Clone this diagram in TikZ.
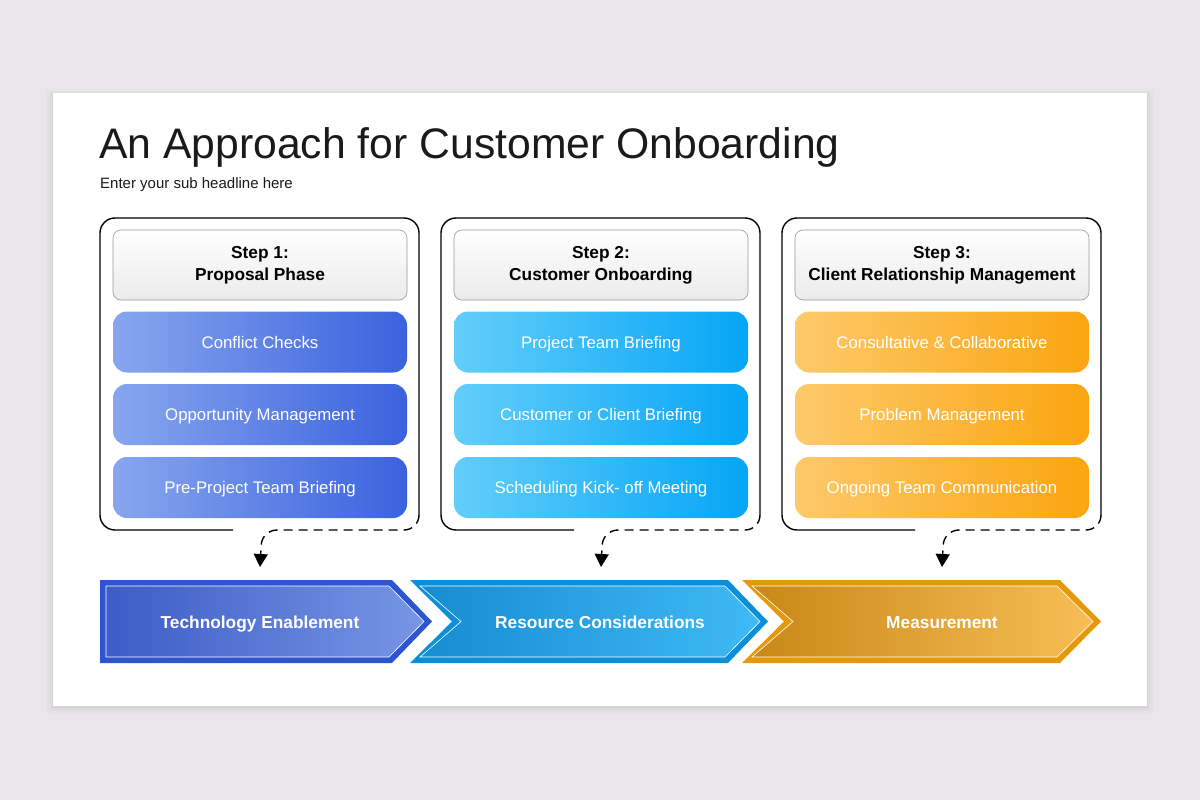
\documentclass[tikz,border=0pt]{standalone}
\usepackage{xcolor}
\usepackage{fontspec}
\setmainfont{Liberation Sans}
\usepackage{tikz}
\usetikzlibrary{arrows.meta, calc}

\definecolor{pageGray}{HTML}{E8E6E8}
\definecolor{titleInk}{HTML}{1A1A1A}
\definecolor{blueL}{HTML}{88A6EE}
\definecolor{blueR}{HTML}{3A62DE}
\definecolor{skyL}{HTML}{62CEFA}
\definecolor{skyR}{HTML}{06A5F6}
\definecolor{amberL}{HTML}{FDC96A}
\definecolor{amberR}{HTML}{FBA510}
\definecolor{chevBlue}{HTML}{2C55CF}
\definecolor{chevBlueL}{HTML}{3D5CC6}
\definecolor{chevBlueR}{HTML}{7896E4}
\definecolor{chevSky}{HTML}{0A8FD8}
\definecolor{chevSkyL}{HTML}{168CD2}
\definecolor{chevSkyR}{HTML}{40BAF6}
\definecolor{chevAmber}{HTML}{E5990A}
\definecolor{chevAmberL}{HTML}{C98818}
\definecolor{chevAmberR}{HTML}{F7BE55}

\tikzset{
    stepcard/.style={draw=black!40, line width=0.6pt, rounded corners=8pt,
        top color=white, bottom color=black!8, minimum width=294pt,
        minimum height=70pt, align=center, text=black,
        font=\fontsize{17.3}{22}\selectfont\bfseries},
    itembox/.style={rounded corners=14pt, minimum width=294pt,
        minimum height=61pt, text=white, text height=12pt, text depth=0pt,
        font=\fontsize{16.8}{20}\selectfont},
    colframe/.style={line width=1.4pt, rounded corners=15pt},
    dashlink/.style={line width=1.4pt, rounded corners=15pt,
        dash pattern=on 9pt off 6pt, -{Triangle[length=13pt,width=14pt]}},
    chevlabel/.style={text=white, text height=12.5pt, text depth=0pt,
        font=\fontsize{17.3}{20}\selectfont\bfseries},
}

\begin{document}
\begin{tikzpicture}[x=1pt, y=-1pt]
    % page and slide
    \fill[pageGray] (0,0) rectangle (1200,800);
    \fill[black, opacity=0.02] (47,91) rectangle (1153,714);
    \fill[black, opacity=0.025] (50,92) rectangle (1150,711);
    \fill[black, opacity=0.03] (52,93) rectangle (1148,708);
    \fill[white] (53,93) rectangle (1147,706);
    \useasboundingbox (0,0) rectangle (1200,800);

    % headline
    \node[anchor=base west, inner sep=0pt, text=titleInk,
        font=\fontsize{42.7}{50}\selectfont] (title) at (99,158)
        {An Approach for Customer Onboarding};
    \node[anchor=base west, inner sep=0pt, text=titleInk,
        font=\fontsize{15}{17}\selectfont] (subtitle) at (100,188)
        {Enter your sub headline here};

    % step 1
    \draw[colframe] (233,530) -- (100,530) -- (100,218) -- (419,218) -- (419,515);
    \node[stepcard] (step1) at (260,265) {Step 1:\\Proposal Phase};
    \node[itembox, left color=blueL, right color=blueR] (conflict) at (260,342) {Conflict Checks};
    \node[itembox, left color=blueL, right color=blueR] (opportunity) at (260,414.5) {Opportunity Management};
    \node[itembox, left color=blueL, right color=blueR] (preproject) at (260,487.5) {Pre-Project Team Briefing};

    % step 2
    \draw[colframe] (574,530) -- (441,530) -- (441,218) -- (760,218) -- (760,515);
    \node[stepcard] (step2) at (601,265) {Step 2:\\Customer Onboarding};
    \node[itembox, left color=skyL, right color=skyR] (teambrief) at (601,342) {Project Team Briefing};
    \node[itembox, left color=skyL, right color=skyR] (clientbrief) at (601,414.5) {Customer or Client Briefing};
    \node[itembox, left color=skyL, right color=skyR] (kickoff) at (601,487.5) {Scheduling Kick- off Meeting};

    % step 3
    \draw[colframe] (915,530) -- (782,530) -- (782,218) -- (1101,218) -- (1101,515);
    \node[stepcard] (step3) at (942,265) {Step 3:\\Client Relationship Management};
    \node[itembox, left color=amberL, right color=amberR] (consult) at (942,342) {Consultative \& Collaborative};
    \node[itembox, left color=amberL, right color=amberR] (problem) at (942,414.5) {Problem Management};
    \node[itembox, left color=amberL, right color=amberR] (ongoing) at (942,487.5) {Ongoing Team Communication};

    % chevrons
    \fill[chevBlue] (100,580) -- (392,580) -- (432,621.5) -- (392,663) -- (100,663) -- cycle;
    \shade[left color=chevBlueL, right color=chevBlueR] (106,586) -- (389,586) -- (424,621.5) -- (389,657) -- (106,657) -- cycle;
    \draw[white, line width=0.6pt] (106,586) -- (389,586) -- (424,621.5) -- (389,657) -- (106,657) -- cycle;

    \fill[chevSky] (410,580) -- (728,580) -- (768,621.5) -- (728,663) -- (410,663) -- (452,621.5) -- cycle;
    \shade[left color=chevSkyL, right color=chevSkyR] (420,586) -- (725,586) -- (760,621.5) -- (725,657) -- (420,657) -- (461,621.5) -- cycle;
    \draw[white, line width=0.6pt] (420,586) -- (725,586) -- (760,621.5) -- (725,657) -- (420,657) -- (461,621.5) -- cycle;

    \fill[chevAmber] (742,580) -- (1060,580) -- (1101,621.5) -- (1060,663) -- (742,663) -- (784,621.5) -- cycle;
    \shade[left color=chevAmberL, right color=chevAmberR] (752,586) -- (1057,586) -- (1093,621.5) -- (1057,657) -- (752,657) -- (793,621.5) -- cycle;
    \draw[white, line width=0.6pt] (752,586) -- (1057,586) -- (1093,621.5) -- (1057,657) -- (752,657) -- (793,621.5) -- cycle;

    \node[chevlabel] (techenable) at (260,622) {Technology Enablement};
    \node[chevlabel] (resources) at (600,622) {Resource Considerations};
    \node[chevlabel] (measure) at (942,622) {Measurement};

    % dashed links
    \coordinate (link1) at (419,515);
    \coordinate (link2) at (760,515);
    \coordinate (link3) at (1101,515);
    \coordinate (drop1) at (260,567);
    \coordinate (drop2) at (601,567);
    \coordinate (drop3) at (942,567);
    \draw[dashlink] (link1) -- (419,530) -- (262,530) -- (drop1);
    \draw[dashlink] (link2) -- (760,530) -- (603,530) -- (drop2);
    \draw[dashlink] (link3) -- (1101,530) -- (944,530) -- (drop3);
\end{tikzpicture}
\end{document}
